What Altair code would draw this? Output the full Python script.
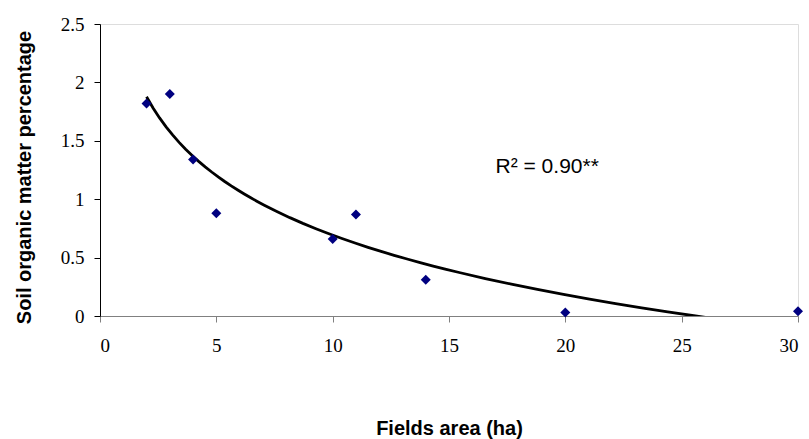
import altair as alt
import pandas as pd

area = [2, 3, 4, 5, 10, 11, 14, 20, 30]
som = [1.82, 1.90, 1.34, 0.88, 0.66, 0.87, 0.31, 0.03, 0.04]

note_x = [17]
note_y = [1.225]
note_text = ["R² = 0.90**"]

df = pd.DataFrame({"x": area, "y": som})
notes = pd.DataFrame({"x": note_x, "y": note_y, "t": note_text})

W, H = 698, 292

xscale = alt.Scale(domain=[0, 30], nice=False, zero=False)
yscale = alt.Scale(domain=[0, 2.5], nice=False)

xaxis = alt.Axis(
    values=[0, 5, 10, 15, 20, 25, 30], grid=False,
    domainColor="#808080", tickColor="#808080", tickSize=6,
    labelFont="Liberation Serif", labelFontSize=19, labelColor="#000000",
    labelPadding=14,
    title="Fields area (ha)", titleFont="Liberation Sans", titleFontSize=20,
    titleFontWeight="bold", titleColor="#000000", titleBaseline="alphabetic",
    titleY=118,
)
yaxis = alt.Axis(
    values=[0, 0.5, 1, 1.5, 2, 2.5], format="~g", grid=False,
    domainColor="#000000", tickColor="#000000", tickSize=6,
    labelFont="Liberation Serif", labelFontSize=19, labelColor="#000000",
    labelPadding=10,
    title="Soil organic matter percentage", titleFont="Liberation Sans",
    titleFontSize=20, titleFontWeight="bold", titleColor="#000000",
    titleBaseline="alphabetic", titleX=-70, titleY=153,
)

points = alt.Chart(df).mark_point(
    shape="diamond", filled=True, size=100, color="#000080", opacity=1
).encode(
    x=alt.X("x:Q", scale=xscale, axis=xaxis),
    y=alt.Y("y:Q", scale=yscale, axis=yaxis),
)

trend = alt.Chart(df).transform_regression(
    "x", "y", method="log", extent=[2, 30]
).mark_line(color="#000000", strokeWidth=2.8, clip=True).encode(
    x=alt.X("x:Q", scale=xscale),
    y=alt.Y("y:Q", scale=yscale),
)

label = alt.Chart(notes).mark_text(
    align="left", baseline="alphabetic", font="Liberation Sans",
    fontSize=21, color="#000000"
).encode(
    x=alt.X("x:Q", scale=xscale),
    y=alt.Y("y:Q", scale=yscale),
    text="t:N",
)

chart = alt.layer(trend, points, label).properties(
    width=W, height=H,
    autosize=alt.AutoSizeParams(type="none"),
    padding={"left": 100, "top": 24, "right": 11, "bottom": 123},
).configure_view(stroke=None).configure(background="white")

chart.save("out.html", embed_options={"renderer": "svg", "actions": False})
